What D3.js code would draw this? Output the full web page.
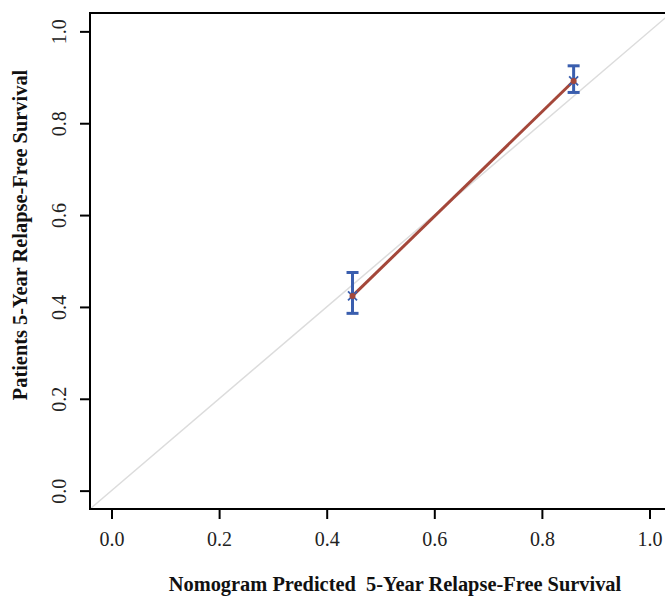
<!DOCTYPE html>
<html>
<head>
<meta charset="utf-8">
<script src="https://cdn.jsdelivr.net/npm/d3@7"></script>
<style>
  body { margin: 0; background: #fff; }
  svg { display: block; }
</style>
</head>
<body>
<svg id="chart"></svg>
<script>
// calibration points (predicted vs observed) with CI
const predicted = [0.448, 0.859];
const observed = [0.424, 0.892];
const lower = [0.386, 0.867];
const upper = [0.475, 0.925];
const tickValues = [0, 0.2, 0.4, 0.6, 0.8, 1.0];
const tickLabels = ["0.0", "0.2", "0.4", "0.6", "0.8", "1.0"];
const xTitle = "Nomogram Predicted\u00a0 5-Year Relapse-Free Survival";
const yTitle = "Patients 5-Year Relapse-Free Survival";

const width = 665, height = 596;
const font = "'Liberation Serif', 'Times New Roman', serif";

const svg = d3.select("#chart")
  .attr("width", width)
  .attr("height", height);

const x = d3.scaleLinear().domain([-0.04, 1.04]).range([90, 671]);
const y = d3.scaleLinear().domain([-0.04, 1.04]).range([509, 13]);

// diagonal reference line
svg.append("line")
  .attr("x1", x(-0.04)).attr("y1", y(-0.04))
  .attr("x2", x(1.04)).attr("y2", y(1.04))
  .attr("stroke", "#dcdcdc")
  .attr("stroke-width", 1.5);

// calibration line
const pts = predicted.map((p, i) => ({p: p, o: observed[i], lo: lower[i], hi: upper[i]}));

svg.append("path")
  .datum(pts)
  .attr("fill", "none")
  .attr("stroke", "#a4473a")
  .attr("stroke-width", 3)
  .attr("d", d3.line().x(d => x(d.p)).y(d => y(d.o)));

// error bars
const bars = svg.selectAll(".err")
  .data(pts)
  .enter()
  .append("g")
  .attr("class", "err")
  .attr("stroke", "#3a5eae")
  .attr("stroke-width", 3);

bars.append("line")
  .attr("x1", d => x(d.p)).attr("x2", d => x(d.p))
  .attr("y1", d => y(d.lo)).attr("y2", d => y(d.hi));
bars.append("line")
  .attr("x1", d => x(d.p) - 6).attr("x2", d => x(d.p) + 6)
  .attr("y1", d => y(d.lo)).attr("y2", d => y(d.lo));
bars.append("line")
  .attr("x1", d => x(d.p) - 6).attr("x2", d => x(d.p) + 6)
  .attr("y1", d => y(d.hi)).attr("y2", d => y(d.hi));

// x markers
bars.append("path")
  .attr("stroke-width", 1.8)
  .attr("d", d => {
    let cx = x(d.p), cy = y(d.o), s = 4.5;
    return `M${cx - s},${cy - s}L${cx + s},${cy + s}M${cx - s},${cy + s}L${cx + s},${cy - s}`;
  });

svg.selectAll(".dot")
  .data(pts)
  .enter()
  .append("circle")
  .attr("cx", d => x(d.p))
  .attr("cy", d => y(d.o))
  .attr("r", 3)
  .attr("fill", "#a4473a");

// axes
const xAxis = svg.append("g")
  .attr("transform", `translate(0,${y(-0.04)})`)
  .call(d3.axisBottom(x).tickValues(tickValues).tickFormat((d, i) => tickLabels[i])
    .tickSize(10).tickPadding(13));

const yAxis = svg.append("g")
  .attr("transform", `translate(${x(-0.04)},0)`)
  .call(d3.axisLeft(y).tickValues(tickValues).tickFormat((d, i) => tickLabels[i])
    .tickSize(10));

[xAxis, yAxis].forEach(a => {
  a.select(".domain").remove();
  a.selectAll(".tick line").attr("stroke", "#000").attr("stroke-width", 2);
  a.selectAll(".tick text")
    .style("font-family", font)
    .style("font-size", "20px")
    .attr("fill", "#222");
});

yAxis.selectAll(".tick text")
  .attr("x", null)
  .attr("dy", null)
  .attr("text-anchor", "middle")
  .attr("transform", "translate(-24,0) rotate(-90)");

// frame
svg.append("rect")
  .attr("x", x(-0.04))
  .attr("y", y(1.04))
  .attr("width", x(1.04) - x(-0.04))
  .attr("height", y(-0.04) - y(1.04))
  .attr("fill", "none")
  .attr("stroke", "#000")
  .attr("stroke-width", 2);

// titles
svg.append("text")
  .attr("x", 395)
  .attr("y", 591)
  .attr("text-anchor", "middle")
  .style("font-family", font)
  .style("font-size", "20.4px")
  .style("font-weight", "bold")
  .attr("fill", "#111")
  .text(xTitle);

svg.append("text")
  .attr("transform", "translate(27,235) rotate(-90)")
  .attr("text-anchor", "middle")
  .style("font-family", font)
  .style("font-size", "20.4px")
  .style("font-weight", "bold")
  .attr("fill", "#111")
  .text(yTitle);
</script>
</body>
</html>
